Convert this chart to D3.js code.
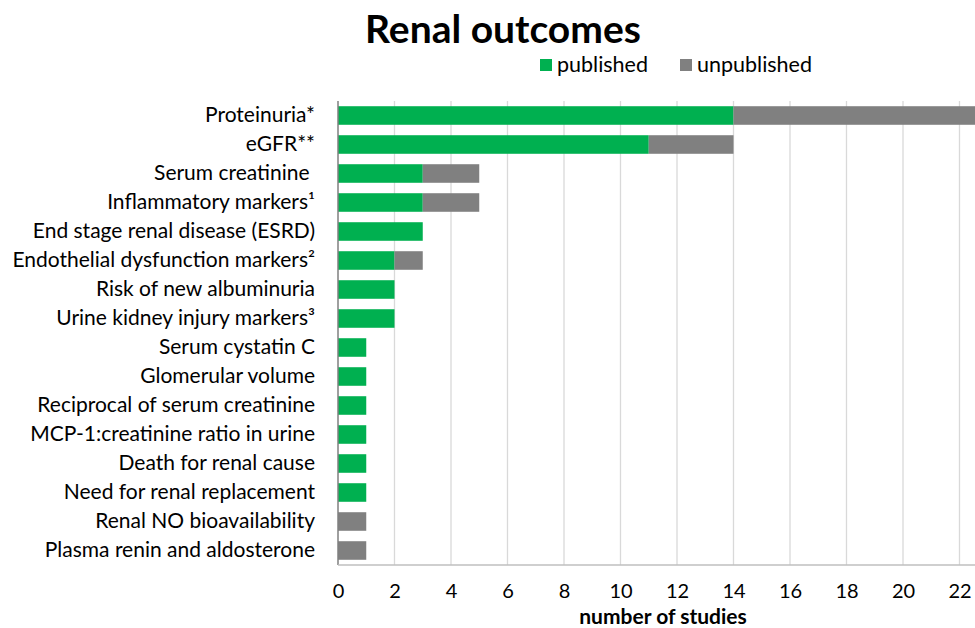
<!DOCTYPE html>
<html><head><meta charset="utf-8">
<script src="https://cdn.jsdelivr.net/npm/d3@7"></script>
<style>body{margin:0;background:#fff}svg{display:block}</style>
</head><body>
<script>
const categories = ["Proteinuria*","eGFR**","Serum creatinine ","Inflammatory markers¹","End stage renal disease (ESRD)","Endothelial dysfunction markers²","Risk of new albuminuria","Urine kidney injury markers³","Serum cystatin C","Glomerular volume","Reciprocal of serum creatinine","MCP-1:creatinine ratio in urine","Death for renal cause","Need for renal replacement","Renal NO bioavailability","Plasma renin and aldosterone"];
const published =   [14,11,3,3,3,2,2,2,1,1,1,1,1,1,0,0];
const unpublished = [9,3,2,2,0,1,0,0,0,0,0,0,0,0,1,1];
const seriesNames = ["published","unpublished"];
const colors = ["#00B050","#808080"];
const gridTicks = [2,4,6,8,10,12,14,16,18,20,22,24];
const xTickLabels = [0,2,4,6,8,10,12,14,16,18,20,22];

const W=975,H=628;
const font="Lato, 'Open Sans', sans-serif";
const svg=d3.select("body").append("svg").attr("width",W).attr("height",H).style("font-family",font);

const x=d3.scaleLinear().domain([0,24]).range([338,338+24*28.25]);
const y=d3.scaleBand().domain(categories).range([101,565]).paddingInner(0.36).paddingOuter(0.18);

// gridlines
svg.append("g").selectAll("line").data(gridTicks).join("line")
  .attr("x1",d=>x(d)).attr("x2",d=>x(d)).attr("y1",101).attr("y2",565)
  .attr("stroke","#d9d9d9").attr("stroke-width",1.3);

const rows=categories.map((c,i)=>({c,p:published[i],u:unpublished[i]}));
svg.append("g").selectAll("rect").data(rows).join("rect")
  .attr("x",x(0)).attr("y",d=>y(d.c)).attr("width",d=>x(d.p)-x(0)).attr("height",y.bandwidth())
  .attr("fill",colors[0]);
svg.append("g").selectAll("rect").data(rows).join("rect")
  .attr("x",d=>x(d.p)).attr("y",d=>y(d.c)).attr("width",d=>x(d.p+d.u)-x(d.p)).attr("height",y.bandwidth())
  .attr("fill",colors[1]);

// axes lines
svg.append("line").attr("x1",x(0)).attr("x2",x(0)).attr("y1",101).attr("y2",565).attr("stroke","#7f7f7f").attr("stroke-width",1.5);
svg.append("line").attr("x1",x(0)).attr("x2",W).attr("y1",565).attr("y2",565).attr("stroke","#bfbfbf").attr("stroke-width",1.3);

// x tick labels
const xa=d3.axisBottom(x).tickValues(xTickLabels).tickSize(0).tickPadding(0);
const gx=svg.append("g").attr("transform","translate(0,584)").call(xa);
gx.select(".domain").remove();
gx.selectAll("text").attr("font-size",20).attr("font-family",font).attr("fill","#000").attr("dy","0.71em").attr("y",0);

// y labels
const ya=d3.axisLeft(y).tickSize(0).tickPadding(0);
const gy=svg.append("g").attr("transform","translate(315,0)").call(ya);
gy.select(".domain").remove();
gy.selectAll("text").attr("font-size",21).attr("font-family",font).attr("fill","#000").attr("x",0).style("white-space","pre");

// title
svg.append("text").attr("x",503).attr("y",43).attr("text-anchor","middle").attr("font-size",39).attr("font-weight","bold").text("Renal outcomes");

// legend
const leg=[{n:seriesNames[0],c:colors[0],x:540},{n:seriesNames[1],c:colors[1],x:680}];
const lg=svg.append("g").selectAll("g").data(leg).join("g").attr("transform",d=>`translate(${d.x},59)`);
lg.append("rect").attr("width",12).attr("height",12).attr("fill",d=>d.c);
lg.append("text").attr("x",17).attr("y",13).attr("font-size",21.5).text(d=>d.n);

// axis title
svg.append("text").attr("x",663).attr("y",624).attr("text-anchor","middle").attr("font-size",21).attr("font-weight","bold").text("number of studies");
</script>
</body></html>
